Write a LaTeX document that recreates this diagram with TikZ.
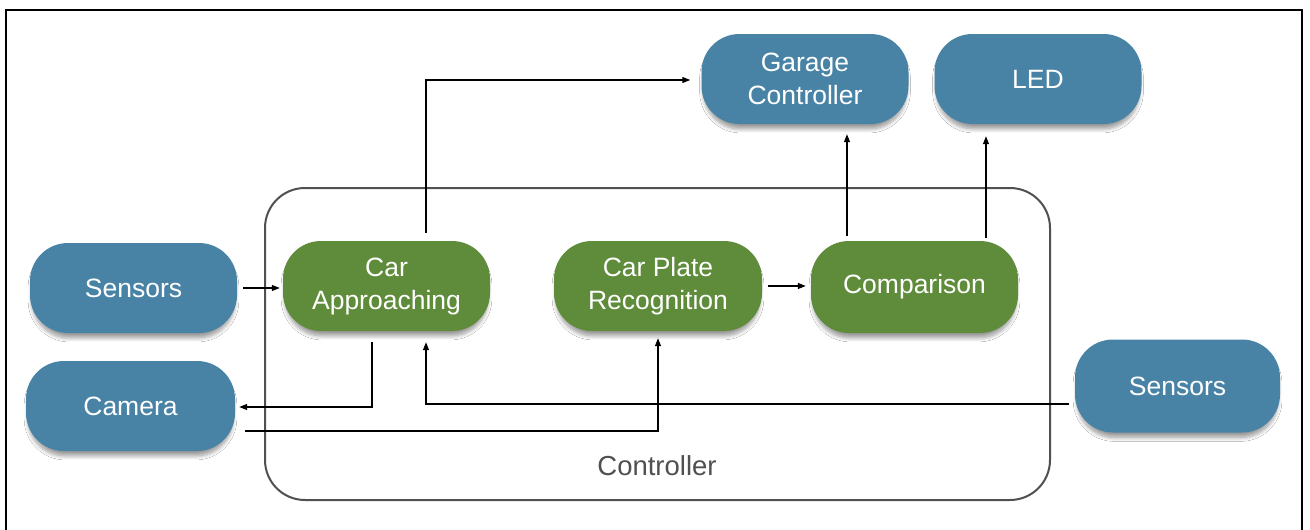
\documentclass[tikz,border=0pt]{standalone}
\usepackage{fontspec}
\setmainfont{Liberation Sans}
\usetikzlibrary{arrows.meta,shadows.blur}
\definecolor{boxblue}{HTML}{4883A6}
\definecolor{boxgreen}{HTML}{5F8C3A}
\definecolor{ctrlgray}{HTML}{505050}
\tikzset{
  pill/.style={rounded corners=38pt, minimum width=207pt, minimum height=90pt,
    text=white, align=center, font=\fontsize{26.5}{33}\selectfont, inner sep=0pt,
    blur shadow={shadow xshift=0pt, shadow yshift=-6pt, shadow scale=0.98, shadow blur radius=4pt, shadow blur steps=8, shadow opacity=40}},
  bluebox/.style={pill, fill=boxblue},
  greenbox/.style={pill, fill=boxgreen},
  arr/.style={line width=1.1pt, -{Triangle[length=8pt,width=6pt]}},
}
\begin{document}
\begin{tikzpicture}[x=1pt,y=-1pt]
\useasboundingbox (0,0) rectangle (1310,530);
\fill[white] (0,0) rectangle (1310,530);
\draw[line width=2.2pt] (6,535) -- (6,10) -- (1302,10) -- (1302,535);

\node (ctrl) [draw=ctrlgray, line width=2pt, rounded corners=40pt, minimum width=785pt, minimum height=312pt, inner sep=0pt] at (657.5,344) {};
\node (ctrllabel) [text=ctrlgray, font=\fontsize{27.5}{32}\selectfont] at (657,466) {Controller};

\node (sl)  [bluebox] at (133.5,288) {Sensors};
\node (cam) [bluebox, minimum width=209pt] at (130.5,406) {Camera};
\node (ca)  [greenbox] at (386.5,286) {Car\\Approaching};
\node (cpr) [greenbox, minimum width=208pt] at (658,286) {Car Plate\\Recognition};
\node (cmp) [greenbox, minimum height=92pt] at (914.5,287) {Comparison};
\node (gc)  [bluebox] at (805,79) {Garage\\Controller};
\node (led) [bluebox] at (1038,79) {LED};
\node (sr)  [bluebox, minimum width=205pt, minimum height=93pt] at (1177.5,386) {Sensors};

\coordinate (caTop) at ([xshift=39.5pt]ca.north);
\coordinate (caBotL) at ([xshift=-14.5pt]ca.south);
\coordinate (caBotR) at ([xshift=39.5pt]ca.south);
\coordinate (cmpL) at ([xshift=-67.5pt]cmp.north);
\coordinate (cmpR) at ([xshift=71.5pt]cmp.north);

\draw[arr] ([xshift=6pt]sl.east) -- ([xshift=-3pt]sl.east -| ca.west);
\draw[arr] ([yshift=8pt]caTop) |- ([xshift=-11pt,yshift=-1pt]gc.west);
\draw[arr] ([yshift=-11pt]caBotL) |- ([xshift=4pt,yshift=-1pt]cam.east);
\draw[arr] ([xshift=-6pt,yshift=-18pt]sr.west) -| ([yshift=-11pt]caBotR);
\draw[arr] ([xshift=10pt,yshift=-25pt]cam.east) -| ([yshift=-7pt]cpr.south);
\draw[arr] ([xshift=6pt]cpr.east) -- ([xshift=-5pt]cpr.east -| cmp.west);
\draw[arr] ([yshift=5pt]cmpL) -- ([yshift=-10pt]cmpL |- gc.south);
\draw[arr] ([yshift=3pt]cmpR) -- ([yshift=-12pt]cmpR |- led.south);
\end{tikzpicture}
\end{document}
